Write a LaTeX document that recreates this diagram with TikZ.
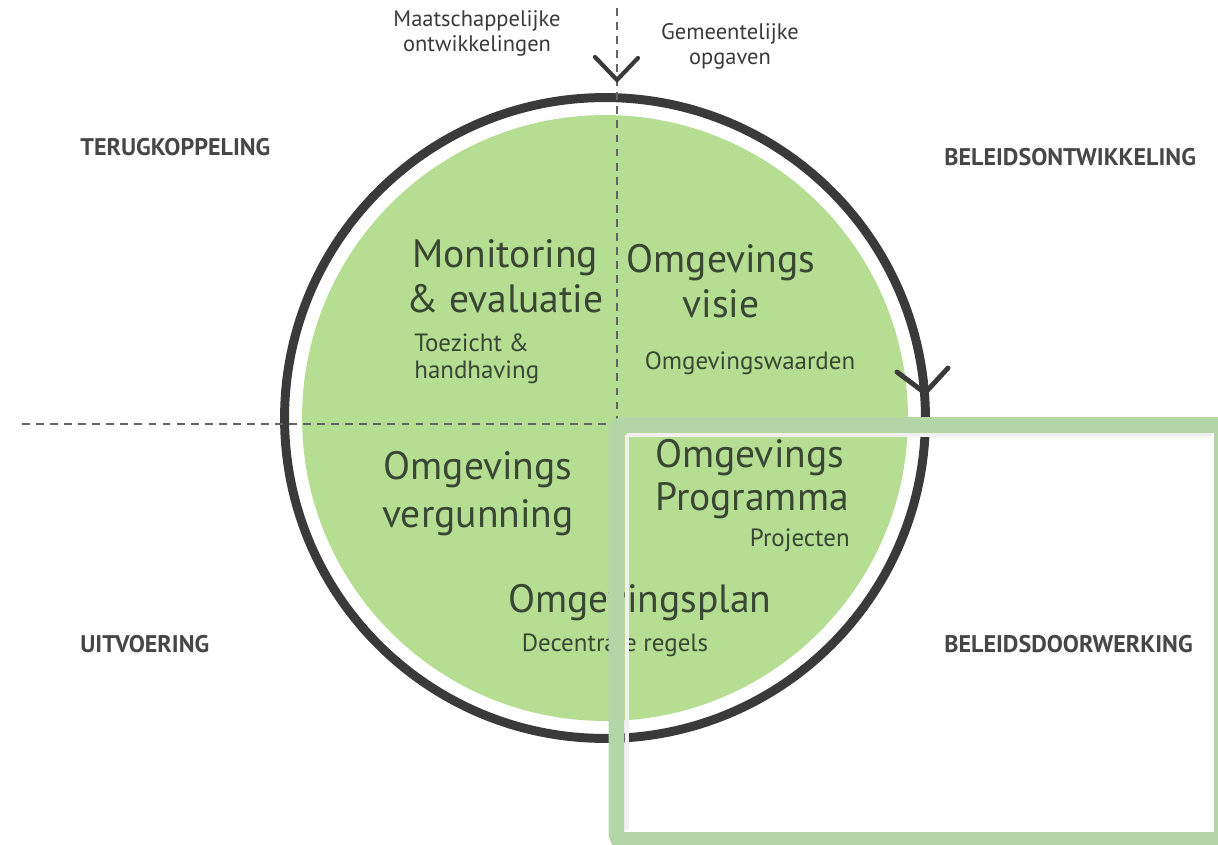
\documentclass[tikz,border=0pt]{standalone}
\usepackage{fontspec}
\setmainfont{PT Sans}
\usetikzlibrary{calc}
\definecolor{cyclegreen}{RGB}{181,222,146}
\definecolor{framegreen}{RGB}{179,214,166}
\definecolor{ringgray}{RGB}{58,58,58}
\definecolor{dashgray}{RGB}{100,100,100}
\definecolor{txtdark}{RGB}{58,70,52}
\definecolor{lblgray}{RGB}{70,70,70}

\begin{document}
\begin{tikzpicture}[x=0.02cm,y=-0.02cm,
  bigtxt/.style={text=txtdark, inner sep=0pt, font=\fontsize{22.5}{25.5}\selectfont},
  smalltxt/.style={text=txtdark, inner sep=0pt, font=\fontsize{14.2}{15.3}\selectfont},
  phaselbl/.style={text=lblgray, inner sep=0pt, anchor=west, font=\bfseries\fontsize{13.7}{15}\selectfont},
  inputlbl/.style={text=ringgray, inner sep=0pt, align=center, font=\fontsize{12.8}{14.2}\selectfont},
  guide/.style={dashgray, line width=1.1pt, dash pattern=on 4.5pt off 3.5pt}]
\useasboundingbox (0,0) rectangle (1218,845);

% Cycle
\coordinate (c) at (605,418);
\fill[cyclegreen] (c) circle[radius=6.06cm];
\draw[ringgray, line width=5.1pt] (c) circle[radius=6.41cm];

% Quadrant guides
\draw[guide] (617,8) -- (617,745);
\draw[guide] (22,424) -- (612,424);

% Inputs
\node[inputlbl] (maat) at (477,33) {Maatschappelijke\\ontwikkelingen};
\node[inputlbl] (gem) at (730,46) {Gemeentelijke\\opgaven};

% Phases
\node[phaselbl] (terug) at (80,147) {TERUGKOPPELING};
\node[phaselbl] (ontw) at (944,157) {BELEIDSONTWIKKELING};
\node[phaselbl] (uitv) at (80,644) {UITVOERING};
\node[phaselbl] (door) at (944,644) {BELEIDSDOORWERKING};

% Instruments
\node[bigtxt, align=center] (monitor) at (505,276) {Monitoring\\\& evaluatie};
\node[smalltxt, align=left, anchor=west] (toezicht) at (414,359) {Toezicht \&\\handhaving};
\node[bigtxt, align=center] (visie) at (721,281) {Omgevings\\visie};
\node[smalltxt] (waarden) at (750,363) {Omgevingswaarden};
\node[bigtxt, align=center, font=\fontsize{22.5}{27.2}\selectfont] (vergun) at (478,494) {Omgevings\\vergunning};
\node[bigtxt, align=left, anchor=west, font=\fontsize{22.5}{24.4}\selectfont] (progr) at (655,479) {Omgevings\\Programma};
\node[smalltxt, anchor=east] (proj) at (850,540) {Projecten};
\node[bigtxt] (plan) at (640,603) {Omgevingsplan};
\node[smalltxt] (regels) at (615,645) {Decentrale regels};

% Highlight frame
\draw[black!6, line width=2pt] (627,435) -- (1212,435);
\draw[black!6, line width=2pt] (627,435) -- (627,830);
\draw[framegreen, line width=9pt, rounded corners=3pt] (616.5,425) rectangle (1222,840);

% Direction marks
\draw[ringgray, line width=2.4pt, line cap=round, line join=miter] (595,57) -- (617,80) -- (638,58);
\draw[ringgray, line width=2.8pt, line cap=round, line join=miter] (897,372) -- (925,393) -- (948,368);
\end{tikzpicture}
\end{document}
